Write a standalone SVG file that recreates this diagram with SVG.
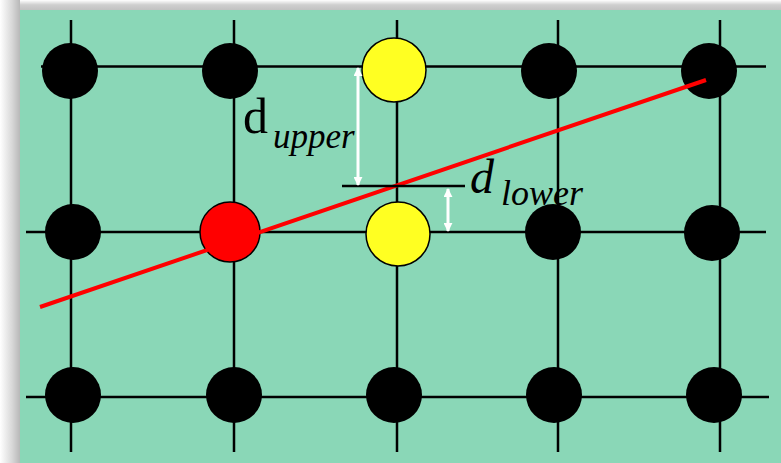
<svg xmlns="http://www.w3.org/2000/svg" width="781" height="463" viewBox="0 0 781 463">
<defs>
<linearGradient id="shL" x1="0" y1="0" x2="1" y2="0">
<stop offset="0" stop-color="#ffffff"/>
<stop offset="0.6" stop-color="#d8d8d8"/>
<stop offset="1" stop-color="#b8b8b8"/>
</linearGradient>
<linearGradient id="shT" x1="0" y1="0" x2="0" y2="1">
<stop offset="0" stop-color="#ffffff"/>
<stop offset="0.4" stop-color="#cfcfcf"/>
<stop offset="1" stop-color="#bdbdbd"/>
</linearGradient>
<marker id="ah" viewBox="0 0 10 10" refX="9" refY="5" markerWidth="3" markerHeight="3" orient="auto-start-reverse" markerUnits="strokeWidth">
<path d="M0,0 L10,5 L0,10 Z" fill="#ffffff"/>
</marker>
<style>
.grid{stroke:#000;stroke-width:2.5;fill:none}
.blk{fill:#000}
.yel{fill:#ffff22;stroke:#000;stroke-width:1.5}
.red{fill:#ff0000;stroke:#000;stroke-width:1.5}
.warr{stroke:#fff;stroke-width:3;fill:none}
.t{font-family:"Liberation Serif","Times New Roman",serif;fill:#000}
</style>
</defs>
<rect x="0" y="0" width="781" height="463" fill="#ffffff"/>
<rect x="0" y="0" width="781" height="12" fill="url(#shT)"/>
<rect x="0" y="0" width="20" height="463" fill="url(#shL)"/>
<rect x="20" y="10" width="761" height="453" fill="#8ad7b7"/>
<g id="connectors">
<line class="grid" x1="41" y1="66.5" x2="766" y2="66.5"/>
<line class="grid" x1="26" y1="232" x2="766" y2="232"/>
<line class="grid" x1="26" y1="397" x2="769" y2="397"/>
<line class="grid" x1="71" y1="20" x2="71" y2="452"/>
<line class="grid" x1="234" y1="20" x2="234" y2="452"/>
<line class="grid" x1="397" y1="20" x2="397" y2="452"/>
<line class="grid" x1="558" y1="20" x2="558" y2="452"/>
<line class="grid" x1="720" y1="20" x2="720" y2="452"/>
</g>
<g id="nodes">
<g id="n11"><circle class="blk" cx="70" cy="71" r="28"/></g>
<g id="n12"><circle class="blk" cx="230" cy="71" r="28"/></g>
<g id="n13"><circle class="yel" cx="394" cy="70" r="32"/></g>
<g id="n14"><circle class="blk" cx="549" cy="71" r="28"/></g>
<g id="n15"><circle class="blk" cx="709" cy="71" r="28"/></g>
<g id="n21"><circle class="blk" cx="73" cy="232" r="28"/></g>
<g id="n22"><circle class="red" cx="230" cy="232" r="30"/></g>
<g id="n23"><circle class="yel" cx="398" cy="234" r="32"/></g>
<g id="n24"><circle class="blk" cx="553" cy="232" r="28"/></g>
<g id="n25"><circle class="blk" cx="712" cy="233" r="28"/></g>
<g id="n31"><circle class="blk" cx="73" cy="395" r="28"/></g>
<g id="n32"><circle class="blk" cx="234" cy="395" r="28"/></g>
<g id="n33"><circle class="blk" cx="394" cy="395" r="28"/></g>
<g id="n34"><circle class="blk" cx="554" cy="395" r="28"/></g>
<g id="n35"><circle class="blk" cx="714" cy="395" r="28"/></g>
</g>
<g id="annotations">
<line x1="40" y1="307" x2="706" y2="80" stroke="#ff0000" stroke-width="4"/>
<line x1="342" y1="186" x2="465" y2="186" stroke="#000" stroke-width="2.5"/>
<line class="warr" x1="358" y1="68" x2="358" y2="185" marker-start="url(#ah)" marker-end="url(#ah)"/>
<line class="warr" x1="448" y1="189" x2="448" y2="231" marker-start="url(#ah)" marker-end="url(#ah)"/>
<text class="t" x="243" y="133" font-size="50">d</text>
<text class="t" x="273" y="148" font-size="35" font-style="italic">upper</text>
<text class="t" x="470" y="193" font-size="48" font-style="italic">d</text>
<text class="t" x="501" y="205" font-size="36" font-style="italic">lower</text>
</g>
</svg>
